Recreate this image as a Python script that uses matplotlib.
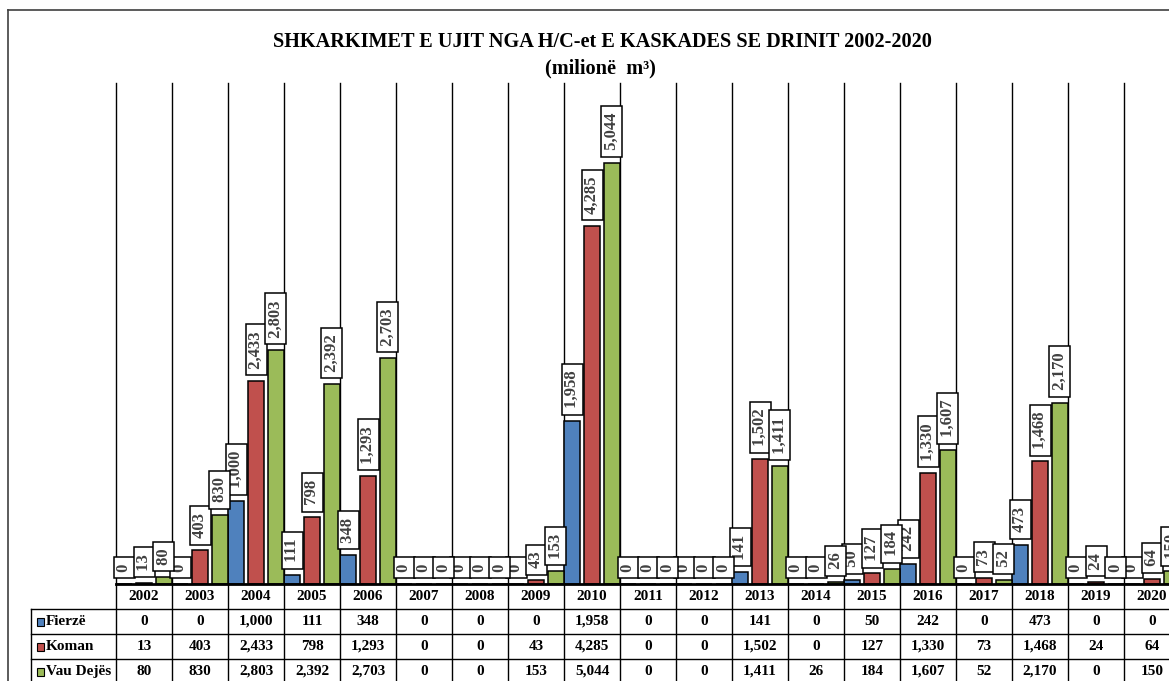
import matplotlib

matplotlib.use("Agg")
import matplotlib.pyplot as plt
import numpy as np
from matplotlib.lines import Line2D
from matplotlib.patches import Rectangle

plt.rcParams["font.family"] = ["Liberation Serif", "DejaVu Serif"]

years = [str(y) for y in range(2002, 2021)]
series_names = ["Fierzë", "Koman", "Vau Dejës"]
fierze = [0, 0, 1000, 111, 348, 0, 0, 0, 1958, 0, 0, 141, 0, 50, 242, 0, 473, 0, 0]
koman = [13, 403, 2433, 798, 1293, 0, 0, 43, 4285, 0, 0, 1502, 0, 127, 1330, 73, 1468, 24, 64]
vau_dejes = [80, 830, 2803, 2392, 2703, 0, 0, 153, 5044, 0, 0, 1411, 26, 184, 1607, 52, 2170, 0, 150]
colors = ["#4F81BD", "#C0504D", "#9BBB59"]

W, H = 1169, 681
fig = plt.figure(figsize=(W / 100, H / 100), dpi=100)


def px_rect(x0, y0, x1, y1):
    # pixel box (top-left origin) -> figure fraction rect
    return [x0 / W, 1 - y1 / H, (x1 - x0) / W, (y1 - y0) / H]


n = len(years)
col_w = 56
left, top, base = 116, 83, 584
right = left + n * col_w

ax = fig.add_axes(px_rect(left, top, right, base))
ax.set_xlim(-0.5, n - 0.5)
ax.set_ylim(0, 6000)
ax.axis("off")

x = np.arange(n)
bw, step = 0.28, 0.357
for i, (vals, c) in enumerate(zip([fierze, koman, vau_dejes], colors)):
    xs = x + (i - 1) * step
    ax.bar(xs, vals, width=bw, color=c, edgecolor="black", linewidth=1.1, zorder=3)
    for xi, v in zip(xs, vals):
        ax.annotate(f" {v:,} ", (xi, v), xytext=(0, 6), textcoords="offset points",
                    rotation=90, ha="center", va="bottom", fontsize=12,
                    fontweight="bold", color="#404040", zorder=5,
                    bbox=dict(boxstyle="square,pad=0.15", fc="white", ec="black", lw=1.1))

for b in np.arange(-0.5, n, 1.0):
    ax.plot([b, b], [0, 6000], color="black", lw=1, zorder=1, clip_on=False)
ax.plot([-0.5, n - 0.5], [0, 0], color="black", lw=2, zorder=6, clip_on=False)

# data table under the chart
tax = fig.add_axes(px_rect(left, base, right, base + 100), sharex=ax)
tax.set_ylim(4, 0)
tax.axis("off")
lab_x = (31 - left) / col_w - 0.5
for b in np.arange(-0.5, n, 1.0):
    tax.plot([b, b], [0, 4], color="black", lw=1, clip_on=False)
tax.plot([lab_x, lab_x], [1, 4], color="black", lw=1, clip_on=False)
for r in (1, 2, 3):
    tax.plot([lab_x, n - 0.5], [r, r], color="black", lw=1, clip_on=False)

for j, yr in enumerate(years):
    tax.text(j, 0.5, yr, ha="center", va="center", fontsize=11, fontweight="bold", clip_on=False)
rows = [fierze, koman, vau_dejes]
for r, (name, vals, c) in enumerate(zip(series_names, rows, colors)):
    yc = r + 1.5
    tax.add_patch(Rectangle((lab_x + 0.1, yc - 0.16), 0.14, 0.32, fc=c, ec="black",
                            lw=0.8, clip_on=False))
    tax.text(lab_x + 0.27, yc, name, ha="left", va="center", fontsize=11,
             fontweight="bold", clip_on=False)
    for j, v in enumerate(vals):
        tax.text(j, yc, f"{v:,}", ha="center", va="center", fontsize=11,
                 fontweight="bold", clip_on=False)

# outer frame (right and bottom run off the page)
fig.add_artist(Line2D([8 / W, 8 / W], [1 - 10 / H, 0], color="#404040", lw=1.2))
fig.add_artist(Line2D([8 / W, 1], [1 - 10 / H, 1 - 10 / H], color="#404040", lw=1.2))

fig.text(602 / W, 1 - 42 / H, "SHKARKIMET E UJIT NGA H/C-et E KASKADES SE DRINIT 2002-2020",
         ha="center", va="center", fontsize=14.6, fontweight="bold")
fig.text(600 / W, 1 - 68 / H, "(milionë  m³)", ha="center", va="center",
         fontsize=14.6, fontweight="bold")

fig.savefig("out.png", dpi=100)
